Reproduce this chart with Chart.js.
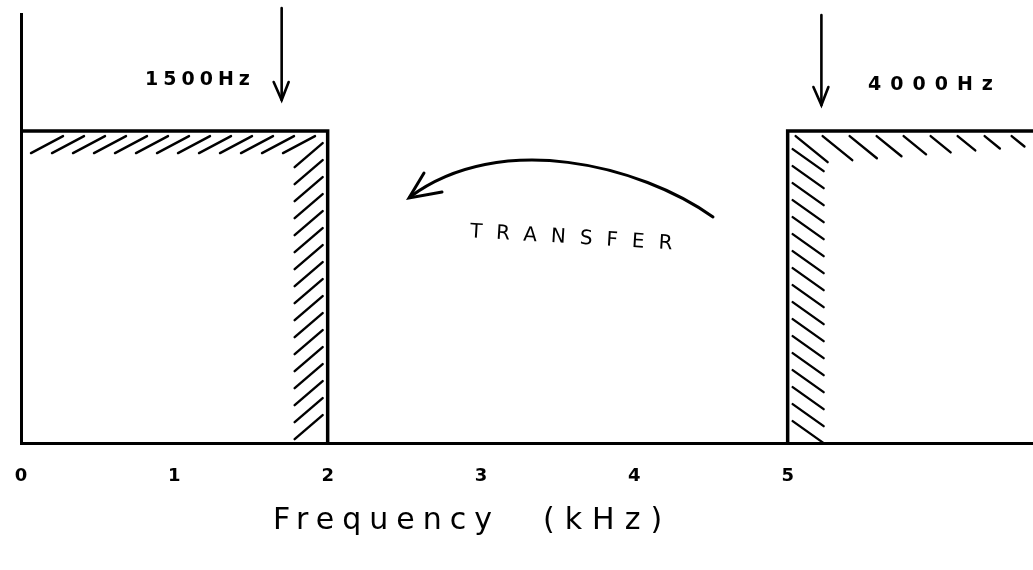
<!DOCTYPE html>
<html>
<head>
<meta charset="utf-8">
<script src="https://cdn.jsdelivr.net/npm/chart.js@4/dist/chart.umd.min.js"></script>
<style>
  html, body { margin: 0; padding: 0; background: #fff; }
  #wrap { width: 1033px; height: 570px; position: relative; }
</style>
</head>
<body>
<div id="wrap"><canvas id="c" width="1033" height="570"></canvas></div>
<script>
// ---- data ----
const tickValues = [0, 1, 2, 3, 4, 5];
const tickLabels = ['0', '1', '2', '3', '4', '5'];
const lowBandX = [0, 2, 2];
const lowBandY = [1, 1, 0];
const highBandX = [5, 5, 6.6];
const highBandY = [0, 1, 1];
const markerX = [1.7, 5.22];
const markerLabels = ['1500Hz', '4000Hz'];
const annotationText = 'TRANSFER';
const axisTitleParts = ['Frequency', '(kHz)'];
const xMin = 0, xMax = 6.6, yMin = 0, yMax = 1.375;

const toPts = (xs, ys) => xs.map((x, i) => ({ x: x, y: ys[i] }));

const drawPlugin = {
  id: 'sketch',
  afterDatasetsDraw(chart) {
    const ctx = chart.ctx;
    const xs = chart.scales.x, ys = chart.scales.y;
    ctx.save();
    ctx.strokeStyle = '#000';
    ctx.fillStyle = '#000';
    ctx.lineCap = 'round';

    // hatching for low band (/ strokes)
    const lTop = ys.getPixelForValue(lowBandY[0]);
    const lL = xs.getPixelForValue(lowBandX[0]);
    const lR = xs.getPixelForValue(lowBandX[1]);
    const base = ys.getPixelForValue(0);
    ctx.lineWidth = 2.4;
    for (let x = lL + 10; x < lR - 30; x += 21) {
      ctx.beginPath(); ctx.moveTo(x, lTop + 22); ctx.lineTo(x + 32, lTop + 5); ctx.stroke();
    }
    for (let y = lTop + 30; y < base; y += 17) {
      ctx.beginPath(); ctx.moveTo(lR - 33, y + 6); ctx.lineTo(lR - 5, y - 18); ctx.stroke();
    }

    // hatching for high band (\ strokes)
    const hTop = ys.getPixelForValue(highBandY[1]);
    const hL = xs.getPixelForValue(highBandX[0]);
    const hR = xs.getPixelForValue(highBandX[2]);
    let k = 0;
    for (let x = hL + 8; x < hR - 5; x += 27) {
      const len = Math.max(14, 40 - k * 3);
      ctx.beginPath(); ctx.moveTo(x, hTop + 5); ctx.lineTo(x + len * 0.8, hTop + 5 + len * 0.65); ctx.stroke();
      k++;
    }
    for (let y = hTop + 30; y < base - 4; y += 17) {
      ctx.beginPath(); ctx.moveTo(hL + 5, y - 12); ctx.lineTo(hL + 36, y + 10); ctx.stroke();
    }

    // down arrows
    ctx.lineWidth = 2.6;
    const arrowTops = [8, 15];
    const arrowTips = [100, 105];
    markerX.forEach((mx, i) => {
      const px = xs.getPixelForValue(mx);
      ctx.beginPath(); ctx.moveTo(px, arrowTops[i]); ctx.lineTo(px, arrowTips[i]); ctx.stroke();
      ctx.beginPath(); ctx.moveTo(px - 8, arrowTips[i] - 18); ctx.lineTo(px, arrowTips[i]); ctx.lineTo(px + 7, arrowTips[i] - 18); ctx.stroke();
    });

    // marker labels
    ctx.font = 'bold 19px "DejaVu Sans"';
    ctx.letterSpacing = '5px';
    ctx.textBaseline = 'middle';
    ctx.textAlign = 'left';
    ctx.fillText(markerLabels[0], 145, 80);
    ctx.letterSpacing = '9px';
    ctx.fillText(markerLabels[1], 868, 85);
    ctx.letterSpacing = '0px';

    // curved transfer arrow
    ctx.lineWidth = 3;
    ctx.beginPath();
    ctx.moveTo(713, 217);
    ctx.bezierCurveTo(640, 165, 500, 130, 410, 197);
    ctx.stroke();
    ctx.beginPath();
    ctx.moveTo(424, 173); ctx.lineTo(409, 198); ctx.lineTo(442, 192);
    ctx.stroke();

    // TRANSFER text
    ctx.save();
    ctx.translate(470, 232);
    ctx.rotate(0.06);
    ctx.font = '20px "DejaVu Sans"';
    ctx.letterSpacing = '14px';
    ctx.textAlign = 'left';
    ctx.textBaseline = 'middle';
    ctx.fillText(annotationText, 0, 0);
    ctx.restore();

    // axis title
    ctx.font = '30px "DejaVu Sans"';
    ctx.textAlign = 'left';
    ctx.textBaseline = 'middle';
    ctx.letterSpacing = '8px';
    ctx.fillText(axisTitleParts[0], 273, 521);
    ctx.letterSpacing = '10px';
    ctx.fillText(axisTitleParts[1], 543, 521);
    ctx.restore();
  }
};

new Chart(document.getElementById('c'), {
  type: 'line',
  data: {
    datasets: [
      { data: toPts(lowBandX, lowBandY), borderColor: '#000', borderWidth: 3.5, pointRadius: 0, fill: false, tension: 0 },
      { data: toPts(highBandX, highBandY), borderColor: '#000', borderWidth: 3.5, pointRadius: 0, fill: false, tension: 0 }
    ]
  },
  options: {
    responsive: false,
    animation: false,
    layout: { padding: { left: 21, right: 0, top: 14, bottom: 61 } },
    plugins: { legend: { display: false }, tooltip: { enabled: false } },
    scales: {
      x: {
        type: 'linear', min: xMin, max: xMax,
        afterBuildTicks: (s) => { s.ticks = tickValues.map(v => ({ value: v })); },
        afterFit: (s) => { s.paddingLeft = 0; s.paddingRight = 0; },
        ticks: {
          color: '#000', padding: 22, maxRotation: 0, autoSkip: false,
          font: { family: 'DejaVu Sans', size: 18, weight: 'bold' },
          callback: (v) => { const i = tickValues.indexOf(v); return i >= 0 ? tickLabels[i] : ''; }
        },
        grid: { display: false, drawTicks: false },
        border: { color: '#000', width: 3 }
      },
      y: {
        type: 'linear', min: yMin, max: yMax,
        afterFit: (s) => { s.width = 0; },
        ticks: { display: false },
        grid: { display: false, drawTicks: false },
        border: { color: '#000', width: 3 }
      }
    }
  },
  plugins: [drawPlugin]
});
</script>
</body>
</html>
